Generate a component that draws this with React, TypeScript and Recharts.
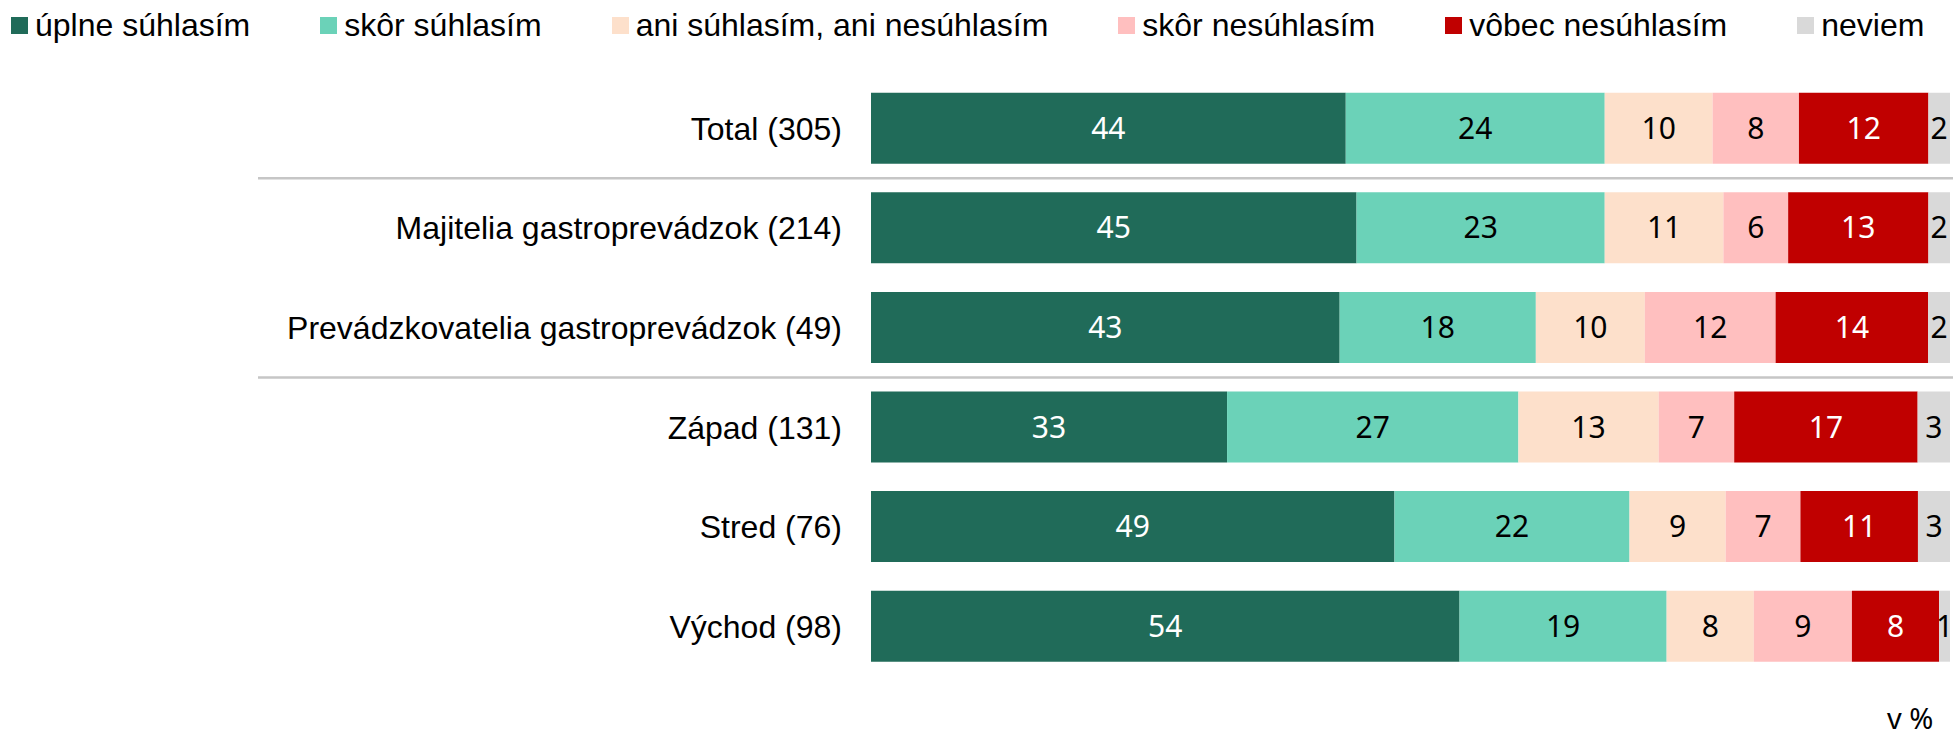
import { BarChart, Bar, XAxis, YAxis, LabelList, ReferenceLine } from 'recharts'

// skupiny respondentov (os Y)
const CATEGORIES = [
  'Total (305)',
  'Majitelia gastroprevádzok (214)',
  'Prevádzkovatelia gastroprevádzok (49)',
  'Západ (131)',
  'Stred (76)',
  'Východ (98)',
]

// hodnoty v %
const UPLNE = [44, 45, 43, 33, 49, 54]
const SKOR_SUHLAS = [24, 23, 18, 27, 22, 19]
const ANI = [10, 11, 10, 13, 9, 8]
const SKOR_NESUHLAS = [8, 6, 12, 7, 7, 9]
const VOBEC = [12, 13, 14, 17, 11, 8]
const NEVIEM = [2, 2, 2, 3, 3, 1]

// oddelovacie čiary pred týmito skupinami
const SEPARATE_BEFORE = ['Majitelia gastroprevádzok (214)', 'Západ (131)']

const SERIES = [
  { key: 'uplne', name: 'úplne súhlasím', values: UPLNE, color: '#206b59', text: '#ffffff' },
  { key: 'skorSuhlas', name: 'skôr súhlasím', values: SKOR_SUHLAS, color: '#6bd2b8', text: '#000000' },
  { key: 'ani', name: 'ani súhlasím, ani nesúhlasím', values: ANI, color: '#fde0cb', text: '#000000' },
  { key: 'skorNesuhlas', name: 'skôr nesúhlasím', values: SKOR_NESUHLAS, color: '#ffbfbf', text: '#000000' },
  { key: 'vobec', name: 'vôbec nesúhlasím', values: VOBEC, color: '#c00000', text: '#ffffff' },
  { key: 'neviem', name: 'neviem', values: NEVIEM, color: '#d9d9d9', text: '#000000' },
]

const data = CATEGORIES.map((name, i) => {
  const row: Record<string, string | number> = { name }
  SERIES.forEach((s) => { row[s.key] = s.values[i] })
  return row
})

const ARIAL = '"Liberation Sans", Arial, sans-serif'
const LABEL_FONT = '"Noto Sans", "Open Sans", sans-serif'

function Separator(p: any) {
  return <line x1={p.x1 - 613} x2={p.x2 + 4} y1={p.y1} y2={p.y2} stroke="#c6c6c6" strokeWidth={2.5} />
}

export default function App() {
  return (
    <div style={{ position: 'fixed', top: 0, left: 0, width: 1953, height: 739, overflow: 'hidden', background: '#fff' }}>
      <div
        style={{
          position: 'absolute', top: 8, left: 11, height: 35, display: 'flex', alignItems: 'center',
          gap: 70, fontFamily: ARIAL, fontSize: 32, color: '#000', whiteSpace: 'nowrap',
        }}
      >
        {SERIES.map((s) => (
          <div key={s.key} style={{ display: 'flex', alignItems: 'center', gap: 7 }}>
            <span style={{ width: 17, height: 17, background: s.color, display: 'inline-block' }} />
            <span>{s.name}</span>
          </div>
        ))}
      </div>

      <BarChart
        width={1953}
        height={739}
        data={data}
        layout="vertical"
        stackOffset="expand"
        margin={{ top: 78.7, right: 3, bottom: 62.7, left: 0 }}
      >
        <XAxis type="number" hide />
        <YAxis
          type="category"
          dataKey="name"
          width={871}
          interval={0}
          axisLine={false}
          tickLine={false}
          tickSize={0}
          tickMargin={29}
          tick={{ fontSize: 32, fill: '#000', fontFamily: ARIAL }}
        />
        {SERIES.map((s) => (
          <Bar key={s.key} dataKey={s.key} name={s.name} stackId="a" fill={s.color} barSize={71} isAnimationActive={false}>
            <LabelList dataKey={s.key} position="center" fill={s.text} fontSize={30} fontFamily={LABEL_FONT} />
          </Bar>
        ))}
        {SEPARATE_BEFORE.map((c) => (
          <ReferenceLine key={c} y={c} position="start" stroke="#c6c6c6" shape={Separator} />
        ))}
      </BarChart>

      <div style={{ position: 'absolute', left: 1887, top: 706, fontFamily: LABEL_FONT, fontSize: 29, color: '#000', lineHeight: '24px' }}>
        v %
      </div>
    </div>
  )
}
